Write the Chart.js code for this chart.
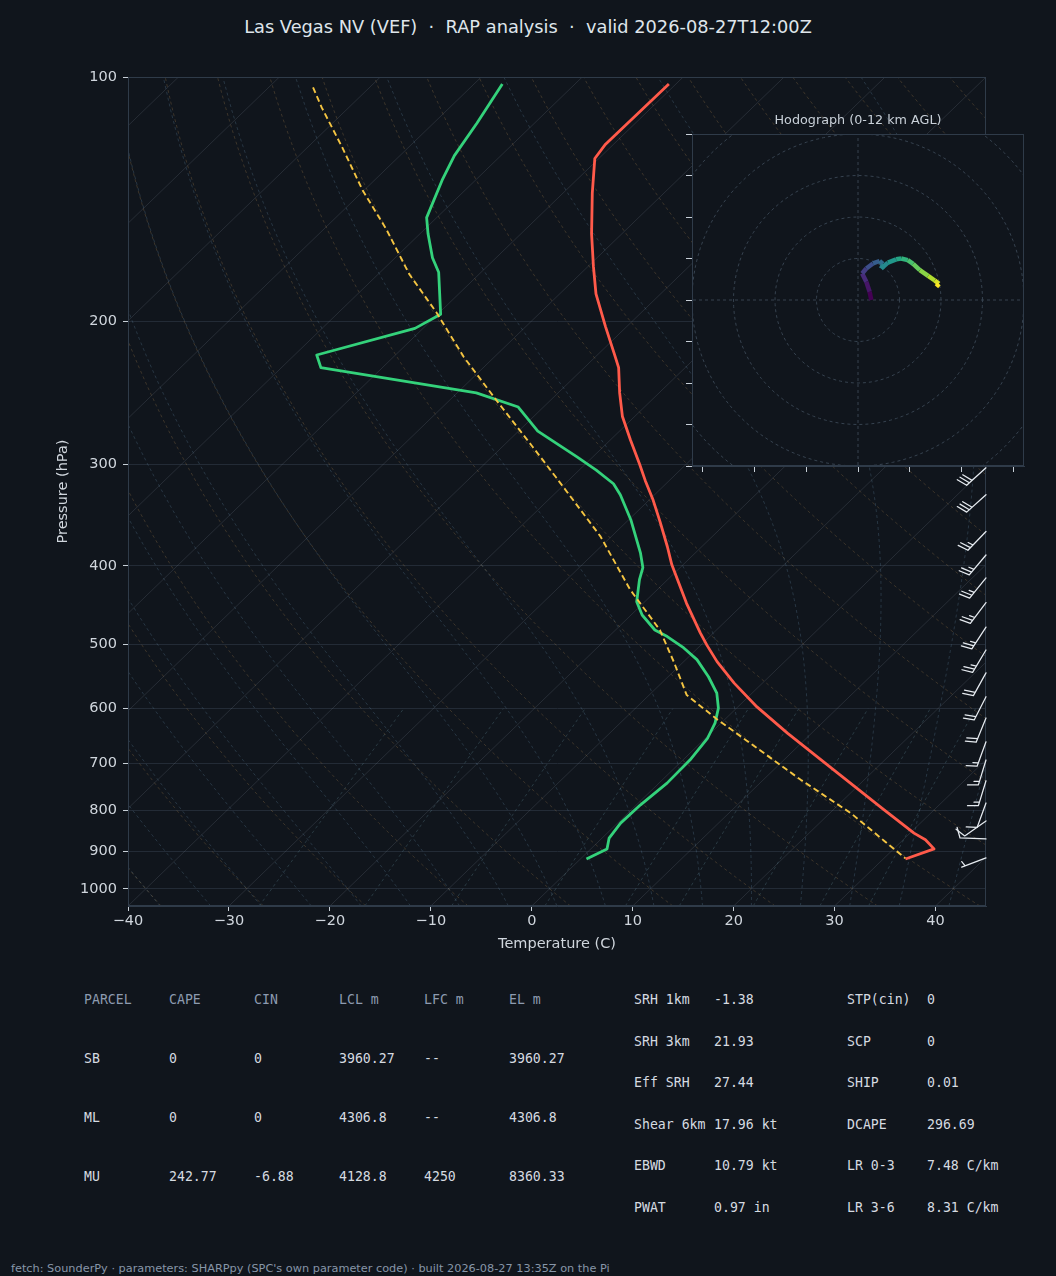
<!DOCTYPE html>
<html>
<head>
<meta charset="utf-8">
<script src="https://cdn.jsdelivr.net/npm/chart.js@4.4.1/dist/chart.umd.min.js"></script>
<style>
html,body{margin:0;padding:0;background:#10151c;}
#page{position:relative;width:1056px;height:1276px;overflow:hidden;background:#10151c;font-family:"DejaVu Sans",sans-serif;}
.abs{position:absolute;white-space:pre;}
#title{left:0;top:16px;width:1056px;text-align:center;font-size:17.8px;line-height:22px;color:#dfe5eb;}
#hodoTitle{left:758px;top:112px;width:200px;text-align:center;font-size:12.75px;line-height:16px;color:#c8d0d8;}
.mono{font-family:"DejaVu Sans Mono",monospace;font-size:13.2px;line-height:16px;}
#footer{left:11px;top:1262px;font-size:11.3px;line-height:14px;color:#8796a8;}
</style>
</head>
<body>
<div id="page">
  <div id="title" class="abs">Las Vegas NV (VEF)  ·  RAP analysis  ·  valid 2026-08-27T12:00Z</div>
  <canvas id="skew" width="1056" height="960" style="position:absolute;left:0;top:0;"></canvas>
  <div id="hodoTitle" class="abs">Hodograph (0-12 km AGL)</div>
  <canvas id="hodo" width="356" height="352" style="position:absolute;left:680px;top:128px;"></canvas>
  <div id="tables"></div>
  <div id="footer" class="abs">fetch: SounderPy · parameters: SHARPpy (SPC's own parameter code) · built 2026-08-27 13:35Z on the Pi</div>
</div>
<script>
// ---------------- DATA ----------------
const pressureTicks = [100, 200, 300, 400, 500, 600, 700, 800, 900, 1000];
const tempTicks = [-40, -30, -20, -10, 0, 10, 20, 30, 40];

const tempP = [102, 121, 126, 139, 156, 171, 185, 203, 219, 228, 245, 262, 280, 300, 314, 332, 353, 379, 399, 445, 484, 501, 525, 558, 597, 643, 714, 799, 854, 870, 893, 919];
const tempC = [-70.7, -70.8, -70.4, -67.1, -63.0, -59.5, -56.4, -52.1, -48.5, -46.6, -43.9, -41.2, -38.0, -34.6, -32.4, -29.6, -26.7, -23.4, -21.1, -15.7, -11.3, -9.4, -6.7, -2.8, 1.9, 7.6, 16.0, 25.0, 30.4, 32.2, 34.0, 32.2];

const dewP = [102, 114, 125, 134, 149, 156, 167, 174, 196, 204, 220, 228, 245, 255, 273, 294, 305, 317, 327, 351, 386, 402, 416, 443, 460, 480, 489, 505, 522, 548, 574, 599, 625, 652, 694, 741, 788, 830, 866, 893, 919];
const dewC = [-87.2, -85.7, -84.6, -83.3, -81.0, -79.2, -76.3, -74.2, -69.7, -70.8, -77.8, -76.1, -58.1, -52.5, -48.1, -41.5, -38.3, -35.2, -33.4, -29.8, -25.4, -23.7, -22.8, -20.8, -18.9, -16.1, -14.2, -11.4, -8.9, -6.0, -3.5, -1.8, -0.6, 0.2, 0.7, 0.8, 0.4, 0.3, 0.7, 1.6, 0.6];

const parcelP = [103, 109, 122, 138, 154, 175, 195, 221, 250, 285, 312, 368, 428, 480, 527, 577, 619, 662, 734, 807, 917];
const parcelC = [-105.6, -102.7, -96.6, -90.1, -83.8, -76.9, -70.3, -63.1, -55.4, -47.1, -41.4, -31.1, -22.7, -15.6, -10.8, -6.3, -0.7, 5.0, 13.7, 22.1, 32.1];

const barbP   = [303, 327, 363, 388, 414, 444, 476, 508, 542, 580, 616, 659, 694, 736, 784, 825, 868, 916];
const barbDir = [228, 228, 224, 220, 219, 217, 213, 211, 209, 207, 202, 200, 197, 197, 200, 235, 272, 249];
const barbKt  = [30, 30, 25, 25, 25, 25, 25, 25, 20, 20, 20, 15, 15, 15, 10, 10, 10, 5];

const hodoU = [3.2, 2.8, 2.0, 1.0, 2.0, 3.6, 5.2, 6.0, 5.6, 7.2, 9.2, 10.4, 12.0, 13.3, 14.9, 16.9, 18.5, 19.5, 18.9];
const hodoV = [0.0, 2.0, 4.4, 6.4, 7.6, 8.8, 9.4, 8.7, 7.6, 9.0, 9.8, 10.0, 9.6, 8.7, 7.2, 5.8, 4.7, 3.9, 3.2];
const hodoRings = [10, 20, 30, 40, 50];
const hodoYTicks = [-40, -30, -20, -10, 0, 10, 20, 30, 40];
const hodoXTicks = [-37.5, -25, -12.5, 0, 12.5, 25, 37.5];

const isothermTemps = [-130, -120, -110, -100, -90, -80, -70, -60, -50, -40, -30, -20, -10, 0, 10, 20, 30, 40];
const dryAdiabatTemps = [-40, -30, -20, -10, 0, 10, 20, 30, 40, 50, 60, 70, 80, 90, 100, 110, 120, 130, 140, 150, 160, 170, 180, 190, 200];
const moistAdiabatTemps = [-40, -35, -30, -25, -20, -15, -10, -5, 0, 5, 10, 15, 20, 25, 30, 35, 40, 45];
const mixingRatios = [0.0004, 0.001, 0.002, 0.004, 0.007, 0.01, 0.016, 0.024, 0.032];

const parcelHeader = ['PARCEL', 'CAPE', 'CIN', 'LCL m', 'LFC m', 'EL m'];
const parcelSB = ['SB', '0', '0', '3960.27', '--', '3960.27'];
const parcelML = ['ML', '0', '0', '4306.8', '--', '4306.8'];
const parcelMU = ['MU', '242.77', '-6.88', '4128.8', '4250', '8360.33'];
const paramNamesA = ['SRH 1km', 'SRH 3km', 'Eff SRH', 'Shear 6km', 'EBWD', 'PWAT'];
const paramValsA  = ['-1.38', '21.93', '27.44', '17.96 kt', '10.79 kt', '0.97 in'];
const paramNamesB = ['STP(cin)', 'SCP', 'SHIP', 'DCAPE', 'LR 0-3', 'LR 3-6'];
const paramValsB  = ['0', '0', '0.01', '296.69', '7.48 C/km', '8.31 C/km'];

// ---------------- HELPERS ----------------
const PBOT = 1050, PTOP = 100, XMIN = -40, XMAX = 45;
const SKEW = (XMAX - XMIN); // 45 deg skew in axes coordinates
function sx(T, p) { return T + SKEW * Math.log10(PBOT / p) / Math.log10(PBOT / PTOP); }
function profile(P, T) { return P.map((p, i) => ({ x: sx(T[i], p), y: p })); }
const pGrid = [];
for (let i = 0; i <= 80; i++) pGrid.push(PBOT * Math.pow(PTOP / PBOT, i / 80));

function es(Tc) { return 6.112 * Math.exp(17.67 * Tc / (Tc + 243.5)); }
function moistLapse(p, Tk) {
  const Rd = 287.04749, Cp = 1004.666, Lv = 2.50084e6, eps = 0.6219569;
  const e = es(Tk - 273.15);
  const rs = eps * e / (p - e);
  return (1 / p) * (Rd * Tk + Lv * rs) / (Cp + Lv * Lv * rs * eps / (Rd * Tk * Tk));
}
function moistLine(t0) {
  function integrate(pEnd, step) {
    let p = 1000, T = t0 + 273.15; const arr = [];
    while ((step < 0 && p > pEnd) || (step > 0 && p < pEnd)) {
      let h = step;
      if (step < 0 && p + h < pEnd) h = pEnd - p;
      if (step > 0 && p + h > pEnd) h = pEnd - p;
      const k1 = moistLapse(p, T), k2 = moistLapse(p + h / 2, T + h * k1 / 2);
      const k3 = moistLapse(p + h / 2, T + h * k2 / 2), k4 = moistLapse(p + h, T + h * k3);
      T += h * (k1 + 2 * k2 + 2 * k3 + k4) / 6; p += h;
      arr.push({ x: sx(T - 273.15, p), y: p });
    }
    return arr;
  }
  const down = integrate(PBOT, 10).reverse();
  const up = integrate(PTOP, -10);
  return down.concat([{ x: sx(t0, 1000), y: 1000 }], up);
}

const BG_FONT = 'DejaVu Sans';
const bgLine = (data, color, dash) => ({ data, borderColor: color, borderWidth: 0.85, borderDash: dash, pointRadius: 0, order: 10, clip: 0 });

const datasets = [
  { label: 'Temperature', data: profile(tempP, tempC), borderColor: '#ff5a4a', borderWidth: 2.8, borderJoinStyle: 'round', pointRadius: 0, order: 1 },
  { label: 'Dewpoint', data: profile(dewP, dewC), borderColor: '#34d27b', borderWidth: 2.8, borderJoinStyle: 'round', pointRadius: 0, order: 2 },
  { label: 'Parcel', data: profile(parcelP, parcelC), borderColor: '#f5c542', borderWidth: 1.9, borderDash: [6, 3.5], pointRadius: 0, order: 0 }
];
isothermTemps.forEach(t => datasets.push(bgLine([{ x: sx(t, PBOT), y: PBOT }, { x: sx(t, PTOP), y: PTOP }], 'rgba(140,152,168,0.22)', [])));
dryAdiabatTemps.forEach(t => {
  const th = t + 273.15;
  datasets.push(bgLine(pGrid.map(p => ({ x: sx(th * Math.pow(p / 1000, 0.2857) - 273.15, p), y: p })), 'rgba(170,132,82,0.34)', [3, 3]));
});
moistAdiabatTemps.forEach(t => datasets.push(bgLine(moistLine(t), 'rgba(105,145,175,0.32)', [3, 3])));
mixingRatios.forEach(w => {
  const arr = [];
  for (let p = 1050; p >= 600; p -= 25) {
    const e = p * w / (0.6219569 + w), l = Math.log(e / 6.112);
    arr.push({ x: sx(243.5 * l / (17.67 - l), p), y: p });
  }
  datasets.push(bgLine(arr, 'rgba(105,150,165,0.34)', [3, 3]));
});

function drawBarb(ctx, bx, by, dir, spd) {
  const L = 26, r = dir * Math.PI / 180;
  const dx = Math.sin(r), dy = -Math.cos(r);
  const px = -dy, py = dx;
  const tx = bx + dx * L, ty = by + dy * L;
  const sp = 0.14 * L, fh = 0.4 * L, fw = 0.125 * L;
  ctx.beginPath();
  ctx.moveTo(bx, by); ctx.lineTo(tx, ty);
  const rem = Math.round(spd / 5) * 5;
  const nFull = Math.floor(rem / 10), half = (rem % 10) >= 5;
  let off = 0;
  for (let k = 0; k < nFull; k++) {
    const sx0 = tx - dx * off, sy0 = ty - dy * off;
    ctx.moveTo(sx0, sy0); ctx.lineTo(sx0 + px * fh + dx * fw, sy0 + py * fh + dy * fw);
    off += sp;
  }
  if (half) {
    if (nFull === 0) off = sp;
    const sx0 = tx - dx * off, sy0 = ty - dy * off;
    ctx.moveTo(sx0, sy0); ctx.lineTo(sx0 + px * fh / 2 + dx * fw / 2, sy0 + py * fh / 2 + dy * fw / 2);
  }
  ctx.stroke();
}

const framePlugin = {
  id: 'frame',
  afterDatasetsDraw(chart) {
    const { ctx, chartArea: a } = chart;
    ctx.save(); ctx.strokeStyle = '#2f3b49'; ctx.lineWidth = 1;
    ctx.strokeRect(a.left + 0.5, a.top + 0.5, a.right - a.left - 1, a.bottom - a.top - 1);
    ctx.restore();
  }
};
const barbPlugin = {
  id: 'barbs',
  afterDraw(chart) {
    const { ctx, chartArea: a, scales: { y } } = chart;
    ctx.save(); ctx.strokeStyle = '#e6ebf0'; ctx.lineWidth = 1.25; ctx.lineCap = 'round';
    barbP.forEach((p, i) => drawBarb(ctx, a.right, y.getPixelForValue(p), barbDir[i], barbKt[i]));
    ctx.restore();
  }
};

const tickFont = { family: BG_FONT, size: 14.5 };
const minus = v => (v < 0 ? '\u2212' + Math.abs(v) : String(v));

new Chart(document.getElementById('skew'), {
  type: 'line',
  data: { datasets },
  options: {
    responsive: false, animation: false, devicePixelRatio: 1,
    layout: { padding: { top: 77, right: 70, left: 0, bottom: 0 } },
    plugins: { legend: { display: false }, tooltip: { enabled: false }, title: { display: false } },
    elements: { point: { radius: 0 }, line: { tension: 0, fill: false } },
    scales: {
      x: {
        type: 'linear', min: XMIN, max: XMAX,
        afterBuildTicks: s => { s.ticks = tempTicks.map(v => ({ value: v })); },
        afterFit: s => { s.height = 54; },
        grid: { drawOnChartArea: false, tickLength: 5, tickColor: '#c8d0d8' },
        border: { color: '#2f3b49' },
        ticks: { color: '#d0d6dd', font: tickFont, padding: 2, maxRotation: 0, callback: v => minus(v) },
        title: { display: true, text: 'Temperature (C)', color: '#d0d6dd', font: tickFont, padding: { top: 0, bottom: 7.5 } }
      },
      y: {
        type: 'logarithmic', reverse: true, min: PTOP, max: PBOT,
        afterBuildTicks: s => { s.ticks = pressureTicks.map(v => ({ value: v })); },
        afterFit: s => { s.width = 128; },
        grid: { color: '#232b36', lineWidth: 1, tickLength: 5, tickColor: '#c8d0d8' },
        border: { color: '#2f3b49' },
        ticks: { color: '#d0d6dd', font: tickFont, padding: 6, callback: v => String(v) },
        title: { display: true, text: 'Pressure (hPa)', color: '#d0d6dd', font: tickFont, padding: { top: 54.3, bottom: 0 } }
      }
    }
  },
  plugins: [framePlugin, barbPlugin]
});

// ---------------- HODOGRAPH ----------------
const viridisStops = [[68,1,84],[72,40,120],[62,74,137],[49,104,142],[38,130,142],[31,158,137],[53,183,121],[109,205,89],[180,222,44],[253,231,37]];
function viridis(t) {
  t = Math.max(0, Math.min(1, t));
  const f = t * (viridisStops.length - 1), i = Math.min(Math.floor(f), viridisStops.length - 2), r = f - i;
  const a = viridisStops[i], b = viridisStops[i + 1];
  return `rgb(${Math.round(a[0] + (b[0] - a[0]) * r)},${Math.round(a[1] + (b[1] - a[1]) * r)},${Math.round(a[2] + (b[2] - a[2]) * r)})`;
}
const hodoSets = [];
const nH = hodoU.length;
hodoSets.push({
  data: hodoU.map((u, i) => ({ x: u, y: hodoV[i] })), borderWidth: 4.5, borderJoinStyle: 'round', borderCapStyle: 'butt',
  borderColor: viridis(0.5), segment: { borderColor: c => viridis(c.p0DataIndex / (nH - 2)) }, pointRadius: 0, order: 0
});
hodoRings.forEach(r => {
  const d = [];
  for (let a = 0; a <= 360; a += 3) d.push({ x: r * Math.cos(a * Math.PI / 180), y: r * Math.sin(a * Math.PI / 180) });
  hodoSets.push({ data: d, borderColor: '#36424f', borderWidth: 1, borderDash: [3, 3], pointRadius: 0, order: 5 });
});
hodoSets.push({ data: [{ x: -60, y: 0 }, { x: 60, y: 0 }], borderColor: '#36424f', borderWidth: 1, borderDash: [3, 3], pointRadius: 0, order: 5 });
hodoSets.push({ data: [{ x: 0, y: -60 }, { x: 0, y: 60 }], borderColor: '#36424f', borderWidth: 1, borderDash: [3, 3], pointRadius: 0, order: 5 });

const hodoBg = {
  id: 'hodoBg',
  beforeDraw(chart) {
    const { ctx, chartArea: a } = chart;
    ctx.save(); ctx.fillStyle = '#10151c'; ctx.fillRect(a.left, a.top, a.right - a.left, a.bottom - a.top); ctx.restore();
  }
};
new Chart(document.getElementById('hodo'), {
  type: 'line',
  data: { datasets: hodoSets },
  options: {
    responsive: false, animation: false, devicePixelRatio: 1,
    layout: { padding: { top: 6, right: 12, left: 0, bottom: 0 } },
    plugins: { legend: { display: false }, tooltip: { enabled: false } },
    elements: { point: { radius: 0 }, line: { tension: 0 } },
    scales: {
      x: {
        type: 'linear', min: -40, max: 40,
        afterBuildTicks: s => { s.ticks = hodoXTicks.map(v => ({ value: v })); },
        afterFit: s => { s.height = 14; },
        ticks: { display: false },
        grid: { drawOnChartArea: false, tickLength: 6, tickColor: '#c8d0d8' },
        border: { color: '#2f3b49' }
      },
      y: {
        type: 'linear', min: -40, max: 40,
        afterBuildTicks: s => { s.ticks = hodoYTicks.map(v => ({ value: v })); },
        afterFit: s => { s.width = 12; },
        ticks: { display: false },
        grid: { drawOnChartArea: false, tickLength: 6, tickColor: '#c8d0d8' },
        border: { color: '#2f3b49' }
      }
    }
  },
  plugins: [hodoBg, framePlugin]
});

// ---------------- TABLES ----------------
const tables = document.getElementById('tables');
function put(text, x, yc, color) {
  const s = document.createElement('div');
  s.className = 'abs mono';
  s.textContent = text;
  s.style.left = x + 'px'; s.style.top = (yc - 8) + 'px'; s.style.color = color;
  tables.appendChild(s);
}
const colX = [84, 169, 254, 339, 424, 509];
parcelHeader.forEach((t, i) => put(t, colX[i], 1000, '#8d9bb0'));
[parcelSB, parcelML, parcelMU].forEach((row, r) => row.forEach((t, i) => put(t, colX[i], 1059 + r * 59, '#d6dbe1')));
paramNamesA.forEach((t, i) => {
  const yc = 1000 + i * 41.5;
  put(t, 634, yc, '#d6dbe1'); put(paramValsA[i], 714, yc, '#d6dbe1');
  put(paramNamesB[i], 847, yc, '#d6dbe1'); put(paramValsB[i], 927, yc, '#d6dbe1');
});
</script>
</body>
</html>
